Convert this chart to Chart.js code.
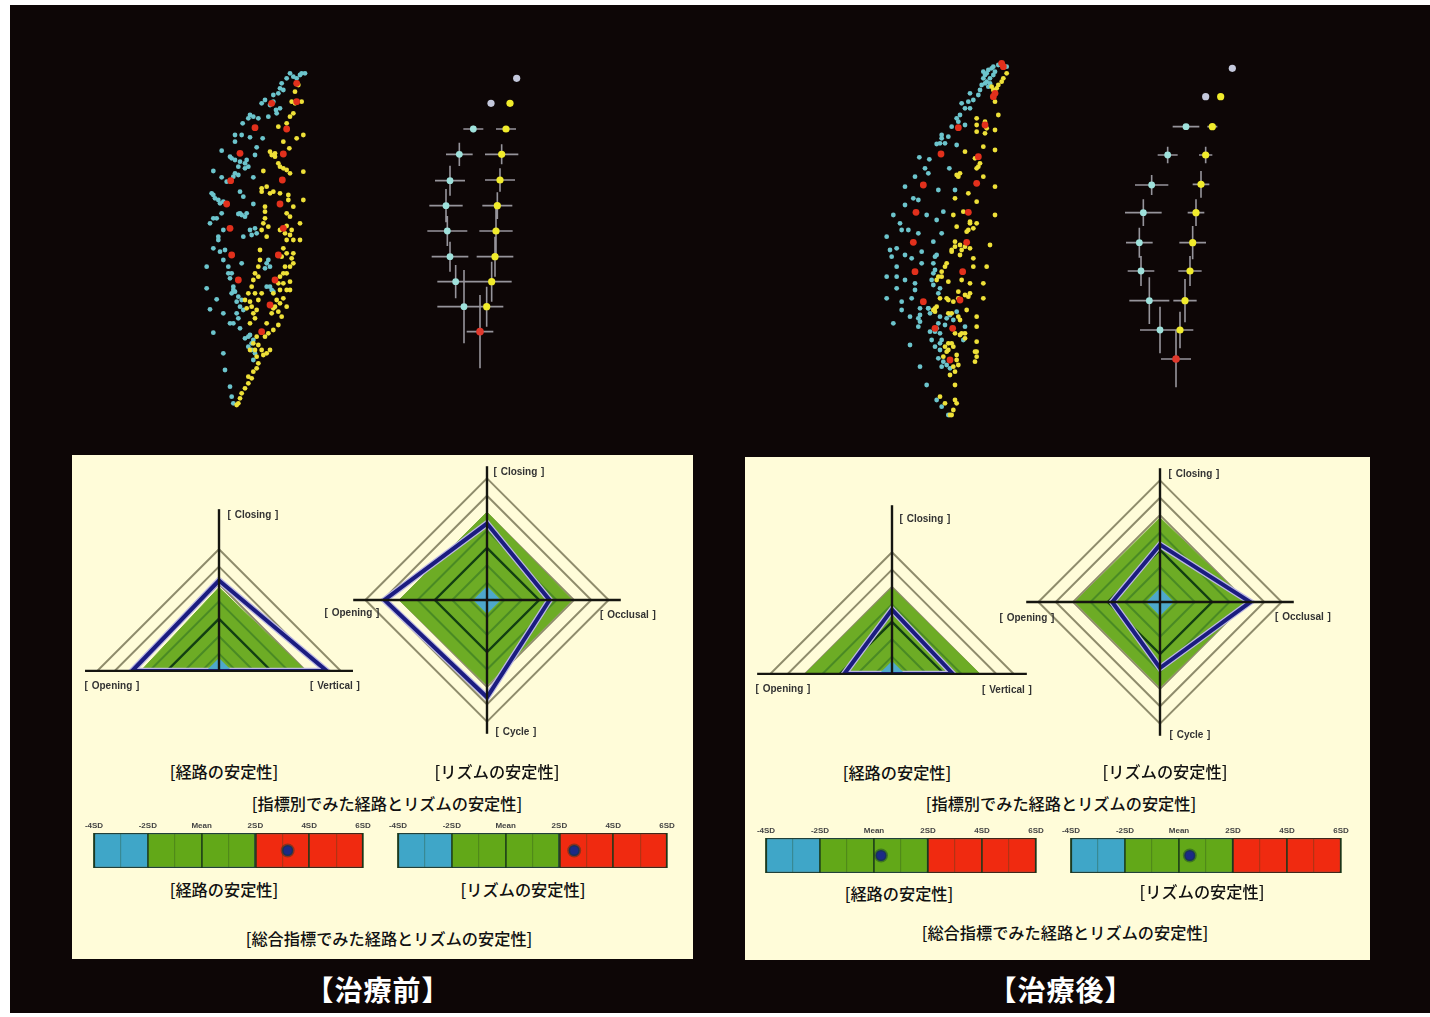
<!DOCTYPE html>
<html lang="ja">
<head>
<meta charset="utf-8">
<title>治療前 治療後</title>
<script src="https://cdn.jsdelivr.net/npm/chart.js@4"></script>
<style>
    html, body { margin: 0; padding: 0; background: #fff; }
    body { position: relative; width: 1430px; height: 1017px; overflow: hidden; }
    .black { position: absolute; left: 10px; top: 5px; width: 1420px; height: 1008px; background: #0d0606; }
    .panel { position: absolute; background: #fffcd9; }
    .box { position: absolute; overflow: hidden; }
    .box canvas { display: block; }
    .cloud canvas { filter: blur(0.6px); }
    .t { position: absolute; transform: translate(-50%, -50%); white-space: nowrap; color: #111;
         font: 500 16.2px "Noto Sans CJK JP", sans-serif; }
    .ax { position: absolute; transform: translate(-50%, -50%); white-space: nowrap; color: #333;
          font: bold 10px "Liberation Sans", sans-serif; word-spacing: 1px; filter: blur(0.3px); }
    .title { position: absolute; transform: translate(-50%, -50%); white-space: nowrap; color: #fff;
             font: bold 28px "Noto Sans CJK JP", sans-serif; letter-spacing: 1px; }
</style>
</head>
<body>
<div class="black"></div>
<div class="panel" style="left:72px;top:455px;width:621px;height:504px"></div>
<div class="panel" style="left:745px;top:457px;width:625px;height:503px"></div>

<div class="box cloud" style="left:190px;top:60px;width:400px;height:360px"><canvas id="beforeScatter" width="400" height="360"></canvas></div>
<div class="box cloud" style="left:870px;top:50px;width:400px;height:380px"><canvas id="afterScatter" width="400" height="380"></canvas></div>

<div class="box" style="left:45px;top:497px;width:348px;height:175px"><canvas id="beforePath" width="348" height="348"></canvas></div>
<div class="box" style="left:348px;top:461px;width:278px;height:278px"><canvas id="beforeRhythm" width="278" height="278"></canvas></div>
<div class="box" style="left:718px;top:500px;width:348px;height:175px"><canvas id="afterPath" width="348" height="348"></canvas></div>
<div class="box" style="left:1021px;top:463px;width:278px;height:278px"><canvas id="afterRhythm" width="278" height="278"></canvas></div>

<div class="box" style="left:74px;top:820px;width:309px;height:50px"><canvas id="beforePathBar" width="309" height="50"></canvas></div>
<div class="box" style="left:378px;top:820px;width:309px;height:50px"><canvas id="beforeRhythmBar" width="309" height="50"></canvas></div>
<div class="box" style="left:746px;top:825px;width:310px;height:50px"><canvas id="afterPathBar" width="310" height="50"></canvas></div>
<div class="box" style="left:1051px;top:825px;width:310px;height:50px"><canvas id="afterRhythmBar" width="310" height="50"></canvas></div>

<span class="ax" style="left:253px;top:514px">[ Closing ]</span>
<span class="ax" style="left:112px;top:685px">[ Opening ]</span>
<span class="ax" style="left:335px;top:685px">[ Vertical ]</span>
<span class="ax" style="left:519px;top:471px">[ Closing ]</span>
<span class="ax" style="left:628px;top:614px">[ Occlusal ]</span>
<span class="ax" style="left:516px;top:731px">[ Cycle ]</span>
<span class="ax" style="left:352px;top:612px">[ Opening ]</span>
<span class="ax" style="left:925px;top:518px">[ Closing ]</span>
<span class="ax" style="left:783px;top:688px">[ Opening ]</span>
<span class="ax" style="left:1007px;top:689px">[ Vertical ]</span>
<span class="ax" style="left:1194px;top:473px">[ Closing ]</span>
<span class="ax" style="left:1303px;top:616px">[ Occlusal ]</span>
<span class="ax" style="left:1190px;top:734px">[ Cycle ]</span>
<span class="ax" style="left:1027px;top:617px">[ Opening ]</span>

<span class="t" style="left:224px;top:771px">[経路の安定性]</span>
<span class="t" style="left:497px;top:771px">[リズムの安定性]</span>
<span class="t" style="left:387px;top:803px">[指標別でみた経路とリズムの安定性]</span>
<span class="t" style="left:224px;top:889px">[経路の安定性]</span>
<span class="t" style="left:523px;top:889px">[リズムの安定性]</span>
<span class="t" style="left:389px;top:938px">[総合指標でみた経路とリズムの安定性]</span>
<span class="t" style="left:897px;top:772px">[経路の安定性]</span>
<span class="t" style="left:1165px;top:771px">[リズムの安定性]</span>
<span class="t" style="left:1061px;top:803px">[指標別でみた経路とリズムの安定性]</span>
<span class="t" style="left:899px;top:893px">[経路の安定性]</span>
<span class="t" style="left:1202px;top:891px">[リズムの安定性]</span>
<span class="t" style="left:1065px;top:932px">[総合指標でみた経路とリズムの安定性]</span>

<span class="title" style="left:378px;top:989px">【治療前】</span>
<span class="title" style="left:1061px;top:989px">【治療後】</span>

<script>
// radar values, in rings from the centre. order follows the axis labels
const pathAxes = ["Closing", "Vertical", "", "Opening"];
const rhythmAxes = ["Closing", "Occlusal", "Cycle", "Opening"];

const beforePathNormal = [4.8, 5.0, 0, 4.5];
const beforePathPatient = [5.2, 6.2, 0, 5.0];
const beforeRhythmNormal = [5.05, 4.9, 4.9, 5.05];
const beforeRhythmPatient = [4.4, 3.6, 5.6, 5.9];
const afterPathNormal = [4.95, 5.05, 0, 5.0];
const afterPathPatient = [3.7, 3.5, 0, 2.75];
const afterRhythmNormal = [4.85, 5.0, 4.9, 4.9];
const afterRhythmPatient = [3.3, 5.2, 3.8, 2.75];

const pathCore = [0.75, 0.75, 0, 0.75];
const rhythmCore = [0.8, 0.8, 0.8, 0.8];

// how far each axis line runs past the outer ring
const beforePathReach = [9.3, 7.7, 0, 7.7];
const afterPathReach = [9.7, 7.75, 0, 7.75];
const rhythmReach = [7.7, 7.7, 7.7, 7.7];

// total index bars, SD units
const barBands = [[-4, -2], [-2, 2], [2, 6]];
const barTickValues = [-4, -2, 0, 2, 4, 6];
const barTickLabels = ["-4SD", "-2SD", "Mean", "2SD", "4SD", "6SD"];
const beforePathScore = 3.2;
const beforeRhythmScore = 2.55;
const afterPathScore = 0.26;
const afterRhythmScore = 0.4;

// jaw movement clouds, before treatment
const beforeCyan = [[345,40],[330,45],[310,50],[290,55],[275,70],[265,100],[250,105],[225,120],[240,135],[258,150],[235,170],[190,170],[205,175],[158,190],
    [218,235],[180,232],[155,225],[135,225],[135,245],[200,262],[195,285],[95,272],[120,290],[135,300],[165,310],[175,320],[165,325],[70,333],[145,345],[130,350],
    [95,352],[190,352],[110,365],[65,400],[75,415],[90,430],[150,395],[160,410],[190,432],[100,425],[155,465],[170,460],[145,462],[95,460],[80,475],[60,490],
    [195,505],[185,525],[100,510],[85,530],[70,565],[90,575],[105,570],[100,600],[115,620],[160,530],[50,620],[155,610],[120,655],[50,685],[135,695],[80,718],
    [60,748],[100,760],[140,725],[150,740],[145,775],[120,790],[150,805],[70,818],[175,830],[185,850],[100,880],[105,930],[120,980],[125,1010],[130,1030],
    [230,610],[240,620],[240,680],[250,695],[195,880],[190,900],
    [180,825],[165,835],[190,840],[175,860],[185,870],[140,760],[130,790],[130,690],[145,710],[125,700],[235,600],[225,625],[245,690],[230,680],[115,640],[125,640],
    [130,680],[155,720],[160,750],[260,160],[280,90],[300,40],[320,55],[335,40],[270,85],[250,125],[215,130],[270,145],[180,165],[175,175],[125,295],[150,305],
    [145,320],[170,300],[70,405],[85,420],[150,460],[165,470],[200,520],[85,540],[70,475],[180,510],[135,340]];
const beforeYellow = [[325,75],[315,95],[335,125],[305,125],[315,130],[310,160],[300,170],[290,190],[265,200],[280,245],[320,235],[340,225],[298,265],[240,275],
    [255,290],[265,310],[280,325],[300,340],[340,335],[220,333],[230,380],[215,395],[240,400],[295,405],[340,420],[310,440],[225,455],[225,475],[290,460],[300,470],
    [330,490],[270,510],[290,498],[305,510],[215,510],[230,530],[290,540],[310,540],[330,540],[210,570],[280,565],[310,580],[290,580],[205,620],[285,620],[310,610],
    [290,640],[195,640],[300,665],[280,670],[185,680],[175,700],[180,725],[170,745],[200,750],[190,760],[270,690],[260,720],[255,740],[275,770],[265,795],[250,810],
    [290,740],[190,850],[205,855],[240,870],[220,885],[205,910],[190,935],[175,970],[155,1000],[145,1030],[300,690],
    [210,600],[205,650],[190,660],[195,700],[205,720],[215,700],[165,720],[185,740],[195,775],[180,790],[280,640],[270,650],[265,670],[250,745],[245,760],[230,790],
    [225,830],[270,730],[280,715],[290,690],[250,700],[265,755],[235,820],[200,830],[195,870],[215,870],[230,880],[180,870],[200,890],[175,950],[165,985],[185,955],
    [150,1015],[140,1035],[200,925],[235,500],[220,490],[300,525],[285,520],[275,590],[300,620],[305,595],[225,440],[215,385],[250,395],[270,400],[295,420],[255,280],
    [270,320],[290,330],[245,285]];
const beforeRed = [[195,203],[290,207],[150,280],[280,282],[122,362],[277,360],[110,432],[270,432],[120,505],[280,505],[125,585],[265,585],[145,660],[255,660],
    [240,735],[215,815],[320,70],[245,130],[320,125]];

// [x, y, x spread, y spread]
const beforeOpenMeans = [[850,207,30,10],[808,283,40,35],[780,362,45,45],[768,437,50,50],[772,513,60,45],[780,590,55,45],[797,665,55,50],[822,740,80,110]];
const beforeCloseMeans = [[960,130,0,0],[948,207,30,8],[935,283,50,30],[930,360,45,35],[922,437,45,40],[918,513,50,70],[915,590,55,60],[905,665,60,60],[890,740,50,60]];
const beforeEndMean = [[870,815,40,110]];
const beforeStartMeans = [[980,55,0,0],[903,130,0,0]];

// after treatment
const afterCyan = [[410,50],[385,45],[365,55],[350,70],[340,85],[345,100],[355,110],[375,65],[335,105],[300,130],[325,135],[310,150],[275,160],[300,175],[270,195],
    [260,205],[245,230],[285,225],[215,255],[235,260],[210,280],[200,282],[260,285],[148,322],[178,328],[165,355],[175,370],[135,380],[238,355],[205,420],[255,420],
    [105,410],[105,465],[130,445],[145,450],[70,495],[170,495],[200,510],[220,485],[90,520],[95,540],[115,540],[50,560],[145,550],[190,575],[215,550],[60,600],
    [80,595],[65,620],[105,615],[155,605],[200,615],[125,625],[155,640],[80,650],[190,640],[195,660],[50,680],[80,680],[105,690],[135,700],[135,720],[80,715],
    [190,705],[210,715],[50,745],[125,745],[95,755],[95,780],[120,800],[70,820],[150,795],[150,815],[145,830],[175,775],[205,730],[180,845],[210,800],[240,795],
    [225,825],[215,870],[210,900],[220,935],[240,955],[120,885],[150,950],[170,1005],[200,1050],[215,1070],[235,1095],[195,845],
    [395,40],[370,50],[355,60],[345,75],[360,85],[350,95],[370,75],[340,65],[360,100],[330,120],[295,155],[285,175],[265,215],[225,280],[215,265],[195,620],[150,775],
    [145,805],[205,820],[195,890],[210,880],[205,925],[215,950],[230,945],[185,870],[210,850],[200,835],[230,805],[260,785],[285,830],[280,870],[190,670],[185,690],
    [175,775],[180,790],[250,810]];
const afterYellow = [[395,95],[385,105],[370,120],[375,155],[385,195],[320,225],[345,215],[375,240],[320,245],[345,250],[285,305],[340,290],[375,300],[325,350],
    [315,325],[270,370],[265,380],[340,380],[375,410],[295,430],[255,445],[320,455],[375,495],[250,495],[280,485],[260,530],[300,520],[320,520],[295,540],[255,575],
    [245,605],[275,600],[300,595],[360,585],[270,615],[310,625],[230,640],[215,680],[200,690],[235,695],[310,650],[350,650],[300,700],[340,700],[275,690],[265,725],
    [295,740],[340,745],[210,745],[235,750],[195,775],[290,780],[320,800],[245,790],[270,810],[320,830],[270,855],[285,850],[320,875],[235,880],[320,905],[315,935],
    [260,930],[255,965],[250,890],[235,900],[255,1005],[255,1050],[250,1080],[240,1095],[225,1060],
    [410,70],[400,85],[380,115],[365,110],[375,125],[320,205],[350,235],[330,340],[320,355],[260,375],[300,515],[310,535],[290,545],[245,600],[255,590],[270,585],
    [285,590],[225,650],[215,665],[205,680],[190,780],[195,785],[200,770],[230,745],[250,755],[265,745],[285,735],[300,730],[235,790],[265,800],[275,850],[255,850],
    [285,865],[245,880],[225,890],[260,915],[265,945],[250,950],[240,975],[220,920],[230,905],[315,905],[320,920],[210,1040],[260,1060],[245,1095]];
const afterRed = [[400,50],[370,140],[345,225],[265,233],[213,312],[325,320],[320,400],[160,405],[138,487],[295,487],[130,577],[290,577],[135,665],[278,665],
    [160,755],[270,750],[195,835],[248,835],[240,930],[375,130],[395,40]];

const afterOpenMeans = [[948,230,40,5],[893,315,30,25],[845,405,50,30],[820,488,55,40],[808,578,40,45],[813,663,40,45],[838,752,60,70],[870,840,60,70]];
const afterCloseMeans = [[1052,140,0,0],[1027,230,15,0],[1007,315,20,25],[993,403,25,40],[978,488,25,40],[968,578,40,50],[960,663,35,45],[945,752,35,65],[930,840,40,55]];
const afterEndMean = [[918,927,45,85]];
const afterStartMeans = [[1087,55,0,0],[1007,140,25,0]];

const RING_BROWN = "#8f8c6c";
const GREEN = "#6dac25";
const NAVY = "#1b1c80";

// draws the axis lines through the radial scale, they go further than the rings
const axisReachPlugin = {
    id: "axisReach",
    afterDatasetsDraw(chart, args, opts) {
        const scale = chart.scales.r;
        const c = chart.ctx;
        c.save();
        c.strokeStyle = opts.color;
        c.lineWidth = opts.width;
        opts.reach.forEach((v, i) => {
            if (!v) return;
            const p = scale.getPointPositionForValue(i, v);
            c.beginPath();
            c.moveTo(scale.xCenter, scale.yCenter);
            c.lineTo(p.x, p.y);
            c.stroke();
        });
        c.restore();
    }
};

function ringData(labels, ring) {
    return labels.map(() => ring);
}

function createRadar(id, labels, normal, patient, core, reach, maxRing) {
    const datasets = [
        { data: core, backgroundColor: "#4ea8cb", fill: true, borderWidth: 0, order: 1 },
        { data: patient, borderColor: NAVY, borderWidth: 4, fill: false, order: 0 },
        { data: patient, borderColor: "#bcb8e2", borderWidth: 6.5, fill: false, order: 2 }
    ];
    [1, 2, 3, 4].forEach(ring => {
        datasets.push({
            data: ringData(labels, ring),
            borderColor: ring === 3 ? "#123f12" : "#4a8a24",
            borderWidth: ring === 3 ? 2.4 : 2,
            fill: false,
            order: 3
        });
    });
    datasets.push({ data: normal, backgroundColor: GREEN, borderColor: GREEN, borderWidth: 1, fill: true, order: 4 });

    new Chart(document.getElementById(id), {
        type: "radar",
        data: { labels: labels, datasets: datasets },
        plugins: [axisReachPlugin],
        options: {
            responsive: false,
            animation: false,
            layout: { autoPadding: false },
            elements: { point: { radius: 0 }, line: { tension: 0, borderJoinStyle: "miter" } },
            plugins: {
                legend: { display: false },
                tooltip: { enabled: false },
                axisReach: { reach: reach, color: "#151510", width: 2.4 }
            },
            scales: {
                r: {
                    min: 0,
                    max: maxRing,
                    ticks: { display: false, stepSize: 1 },
                    pointLabels: { display: false },
                    angleLines: { display: false },
                    grid: {
                        lineWidth: 2,
                        color: ctx => (ctx.tick.value >= 5 && ctx.tick.value <= 7) ? RING_BROWN : "transparent"
                    }
                }
            }
        }
    });
}

function createBar(id, score) {
    new Chart(document.getElementById(id), {
        type: "bar",
        data: {
            labels: ["安定性"],
            datasets: [
                { type: "scatter", data: [{ x: score, y: 0 }], pointRadius: 5.5, pointBackgroundColor: "#1c2a86", pointBorderColor: "rgba(20,60,40,0.45)", pointBorderWidth: 3, order: 0 },
                { data: [barBands[0]], backgroundColor: "#3fa6c8", borderColor: "#20403a", borderWidth: 1.5, grouped: false, order: 2 },
                { data: [barBands[1]], backgroundColor: "#62a818", borderColor: "#20403a", borderWidth: 1.5, grouped: false, order: 2 },
                { data: [barBands[2]], backgroundColor: "#f02a10", borderColor: "#40261a", borderWidth: 1.5, grouped: false, order: 2 }
            ]
        },
        options: {
            indexAxis: "y",
            responsive: false,
            animation: false,
            layout: { autoPadding: false, padding: { left: 20, right: 20, bottom: 2, top: 0 } },
            barPercentage: 1,
            categoryPercentage: 1,
            plugins: { legend: { display: false }, tooltip: { enabled: false } },
            scales: {
                x: {
                    type: "linear",
                    position: "top",
                    min: -4,
                    max: 6,
                    afterFit(scale) { scale.height = 13; },
                    border: { display: false },
                    grid: {
                        z: 1,
                        drawTicks: false,
                        lineWidth: ctx => (ctx.tick.value % 2 === 0) ? 1.8 : 1.2,
                        color: ctx => (ctx.tick.value % 2 === 0) ? "rgba(25,55,25,0.85)" : "rgba(40,70,30,0.3)"
                    },
                    ticks: {
                        stepSize: 1,
                        autoSkip: false,
                        maxRotation: 0,
                        padding: 2,
                        color: "#444",
                        font: { size: 8, weight: "bold", family: "Liberation Sans" },
                        callback: v => barTickLabels[barTickValues.indexOf(v)] || ""
                    }
                },
                y: { type: "category", display: false }
            }
        }
    });
}

// each spread becomes a horizontal and a vertical stroke, an empty point breaks the line
function crossLines(means) {
    const gap = { x: null, y: null };
    const pts = [];
    means.forEach(m => {
        if (m[2]) pts.push({ x: m[0] - m[2], y: m[1] }, { x: m[0] + m[2], y: m[1] }, gap);
        if (m[3]) pts.push({ x: m[0], y: m[1] - m[3] }, { x: m[0], y: m[1] + m[3] }, gap);
    });
    return pts;
}

function toPoints(list) {
    return list.map(p => ({ x: p[0], y: p[1] }));
}

function createScatter(id, yMax, cyan, yellow, red, openMeans, closeMeans, endMean, startMeans) {
    const dots = (list, color, radius, order) => ({
        data: toPoints(list), backgroundColor: color, borderWidth: 0, pointRadius: radius, order: order
    });
    new Chart(document.getElementById(id), {
        type: "scatter",
        data: {
            datasets: [
                dots(startMeans, "#c4c8dc", 3.6, 0),
                dots(endMean, "#e0382c", 3.8, 0),
                dots(openMeans, "#9fe2dc", 3.4, 0),
                dots(closeMeans, "#f1ec2c", 3.6, 0),
                {
                    data: crossLines(openMeans.concat(closeMeans, endMean)),
                    showLine: true, spanGaps: false, pointRadius: 0,
                    borderColor: "rgba(210,210,220,0.7)", borderWidth: 1.6, order: 1
                },
                dots(red, "#e2301c", 3.4, 2),
                dots(yellow, "#eee038", 2.4, 3),
                dots(cyan, "#6cc4cc", 2.4, 4)
            ]
        },
        options: {
            responsive: false,
            animation: false,
            layout: { autoPadding: false },
            plugins: { legend: { display: false }, tooltip: { enabled: false } },
            scales: {
                x: { type: "linear", display: false, min: 0, max: 1200 },
                y: { type: "linear", display: false, min: 0, max: yMax, reverse: true }
            }
        }
    });
}

createScatter("beforeScatter", 1080, beforeCyan, beforeYellow, beforeRed, beforeOpenMeans, beforeCloseMeans, beforeEndMean, beforeStartMeans);
createScatter("afterScatter", 1140, afterCyan, afterYellow, afterRed, afterOpenMeans, afterCloseMeans, afterEndMean, afterStartMeans);

createRadar("beforePath", pathAxes, beforePathNormal, beforePathPatient, pathCore, beforePathReach, 10);
createRadar("beforeRhythm", rhythmAxes, beforeRhythmNormal, beforeRhythmPatient, rhythmCore, rhythmReach, 8);
createRadar("afterPath", pathAxes, afterPathNormal, afterPathPatient, pathCore, afterPathReach, 10);
createRadar("afterRhythm", rhythmAxes, afterRhythmNormal, afterRhythmPatient, rhythmCore, rhythmReach, 8);

createBar("beforePathBar", beforePathScore);
createBar("beforeRhythmBar", beforeRhythmScore);
createBar("afterPathBar", afterPathScore);
createBar("afterRhythmBar", afterRhythmScore);
</script>
</body>
</html>
